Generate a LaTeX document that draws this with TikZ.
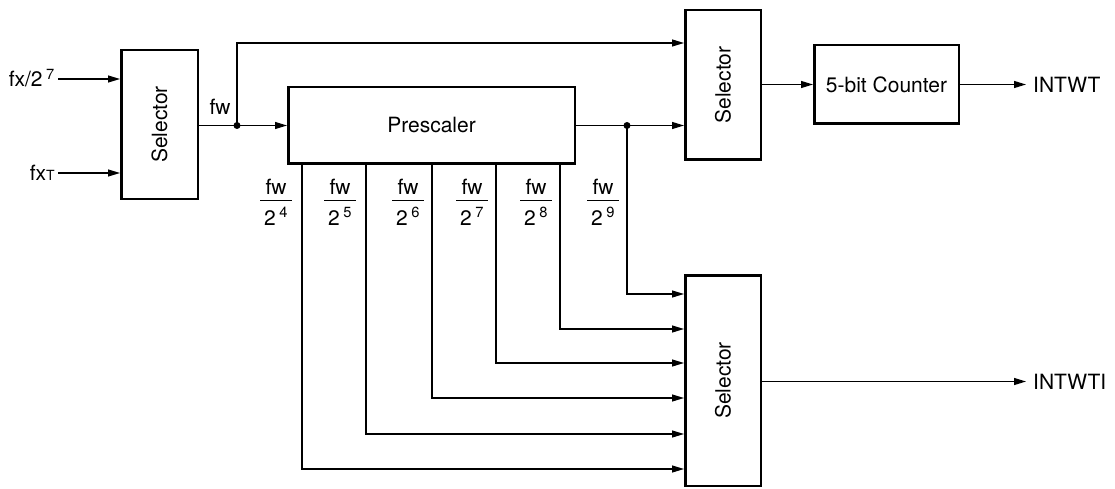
\documentclass[tikz,border=0pt]{standalone}
\usepackage{fontspec}
\setmainfont{TeX Gyre Heros}
\usetikzlibrary{arrows.meta}
\newcommand\fwfrac[1]{\vbox{\hbox to 32pt{\hss fw\hss}\kern5pt\hrule height 1pt\kern7pt\hbox to 32pt{\hss 2\,\textsuperscript{#1}\hss}}}
\begin{document}
\begin{tikzpicture}[x=1pt,y=-1pt, font=\fontsize{21}{25}\selectfont,
 blk/.style={draw, line width=2.5pt, inner sep=0pt},
 conn/.style={line width=1.2pt, -{Triangle[length=12pt,width=7pt]}},
 junc/.style={circle, fill, inner sep=0pt, minimum size=7pt},
 lbl/.style={inner sep=0pt}]
\useasboundingbox (0,0) rectangle (1115,489);
% blocks
\node[blk, minimum width=76.5pt, minimum height=148.5pt] (lsel) at (159.5,124.5) {\rotatebox{90}{Selector}};
\node[blk, minimum width=286.5pt, minimum height=76.5pt] (presc) at (431.5,125.5) {Prescaler};
\node[blk, minimum width=75.5pt, minimum height=149.5pt] (tsel) at (723,85) {\rotatebox{90}{Selector}};
\node[blk, minimum width=144.5pt, minimum height=78.5pt] (cnt) at (886.5,84.5) {5-bit Counter};
\node[blk, minimum width=75.5pt, minimum height=210.5pt] (bsel) at (723,380.5) {\rotatebox{90}{Selector}};
% inputs
\coordinate (i1) at (58,79);
\coordinate (i2) at (58,173);
\draw[conn] (i1) -- (i1 -| lsel.west);
\draw[conn] (i2) -- (i2 -| lsel.west);
\node[lbl, anchor=base east] (l1) at (55,87) {fx/2\,\textsuperscript{7}};
\node[lbl, anchor=base east] (l2) at (55,180) {fx{\fontsize{14}{16}\selectfont T}};
% fw
\node[junc] (d1) at (237,125.5) {};
\draw[conn] (lsel.east |- presc.west) -- (presc.west);
\node[lbl, anchor=base] (lfw) at (220,115) {fw};
\coordinate (ty1) at (0,43);
\draw[conn] (d1.center) |- (tsel.west |- ty1);
% prescaler output
\node[junc] (d2) at (627,125.5) {};
\draw[conn] (presc.east) -- (tsel.west |- presc.east);
\coordinate (ty2) at (0,294);
\draw[conn] (d2.center) |- (bsel.west |- ty2);
% taps
\foreach \x/\y in {560/329, 496/363, 432/398, 366/434, 302/469}{
  \coordinate (tx) at (\x,0);
  \coordinate (ty) at (0,\y);
  \draw[conn] (tx |- presc.south) |- (bsel.west |- ty);
}
% fraction labels
\foreach \cx/\n in {276/4, 340/5, 408/6, 472/7, 536/8, 603/9}{
  \node[lbl, anchor=north] (f\n) at (\cx,179) {\fwfrac{\n}};
}
% outputs
\draw[conn] (tsel.east |- cnt.west) -- (cnt.west);
\coordinate (o1) at (1026,84.5);
\draw[conn] (cnt.east) -- (o1);
\node[lbl, anchor=west] (lo1) at (1033,84.5) {INTWT};
\coordinate (o2) at (1026,381.5);
\draw[conn] (bsel.east |- o2) -- (o2);
\node[lbl, anchor=west] (lo2) at (1033,381.5) {INTWTI};
\end{tikzpicture}
\end{document}
